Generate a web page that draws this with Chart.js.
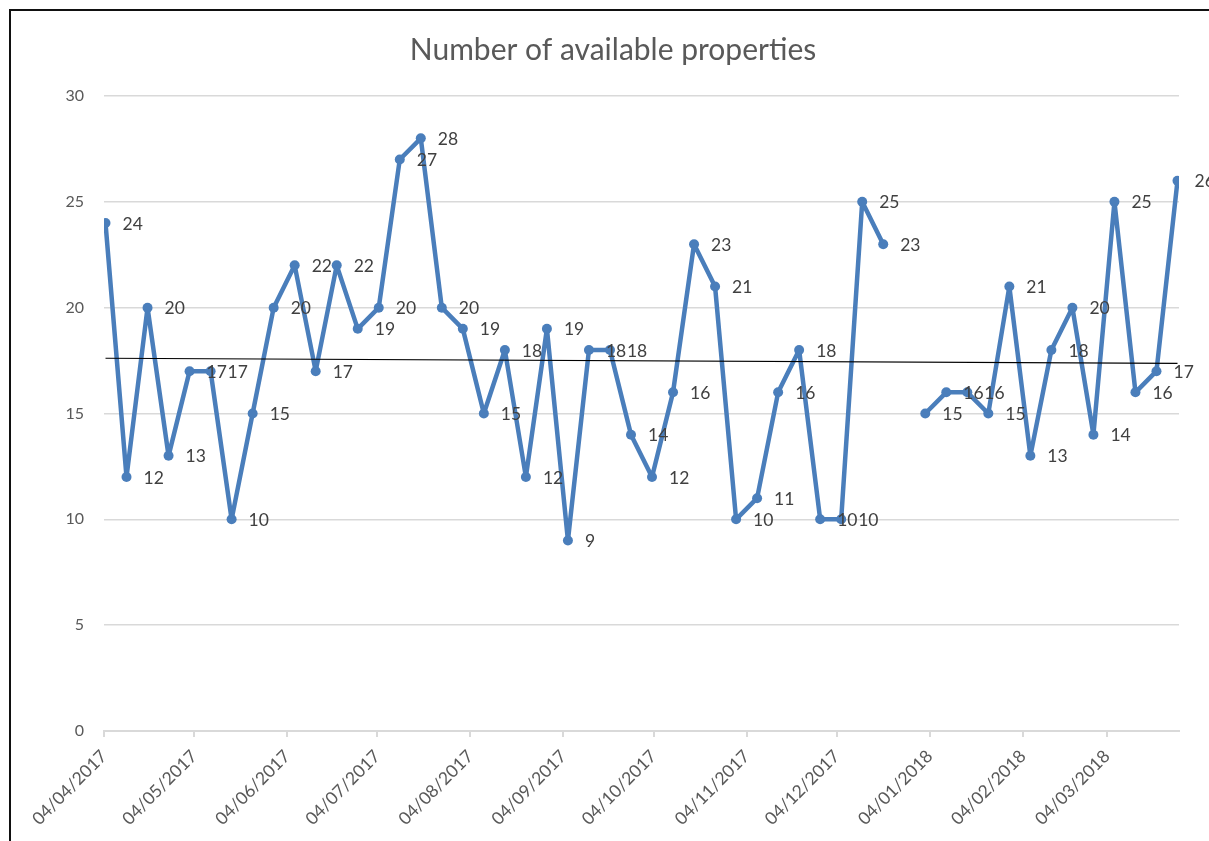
<!DOCTYPE html>
<html><head><meta charset="utf-8">
<script src="https://cdn.jsdelivr.net/npm/chart.js@4/dist/chart.umd.min.js"></script>
<style>
html,body{margin:0;padding:0;background:#fff;overflow:hidden;width:1209px;height:841px;}
#frame{position:absolute;left:9px;top:9px;width:1300px;height:900px;border:2px solid #111;box-sizing:border-box;}
#wrap{position:absolute;left:0;top:0;width:1209px;height:841px;}
</style></head><body>
<div id="frame"></div>
<div id="wrap"><canvas id="c" width="1209" height="841"></canvas></div>
<script>
const title = 'Number of available properties';
const dates = ['04/04/2017','11/04/2017','18/04/2017','25/04/2017','02/05/2017','09/05/2017','16/05/2017','23/05/2017','30/05/2017',
  '06/06/2017','13/06/2017','20/06/2017','27/06/2017','04/07/2017','11/07/2017','18/07/2017','25/07/2017',
  '01/08/2017','08/08/2017','15/08/2017','22/08/2017','29/08/2017','05/09/2017','12/09/2017','19/09/2017','26/09/2017',
  '03/10/2017','10/10/2017','17/10/2017','24/10/2017','31/10/2017','07/11/2017','14/11/2017','21/11/2017','28/11/2017',
  '05/12/2017','12/12/2017','19/12/2017','26/12/2017','02/01/2018','09/01/2018','16/01/2018','23/01/2018','30/01/2018',
  '06/02/2018','13/02/2018','20/02/2018','27/02/2018','06/03/2018','13/03/2018','20/03/2018','27/03/2018'];
const values = [24,12,20,13,17,17,10,15,20,22,17,22,19,20,27,28,20,19,15,18,12,19,9,18,18,14,12,16,23,21,10,11,16,18,10,10,25,23,null,
  15,16,16,15,21,13,18,20,14,25,16,17,26];
const tickLabels = ['04/04/2017','04/05/2017','04/06/2017','04/07/2017','04/08/2017','04/09/2017','04/10/2017','04/11/2017',
  '04/12/2017','04/01/2018','04/02/2018','04/03/2018'];
const yTicks = [0,5,10,15,20,25,30];

function toUTC(s){const [d,m,y]=s.split('/').map(Number);return Date.UTC(y,m-1,d);}
const base = toUTC(dates[0]);
function dayOf(s){return Math.round((toUTC(s)-base)/864e5);}

const pts = dates.map((d,i)=>({x:dayOf(d), y:values[i]}));
// linear least-squares trendline over the available points
const valid = pts.filter(p=>p.y!=null);
const n = valid.length;
const mx = valid.reduce((a,p)=>a+p.x,0)/n, my = valid.reduce((a,p)=>a+p.y,0)/n;
let sxy=0,sxx=0; valid.forEach(p=>{sxy+=(p.x-mx)*(p.y-my);sxx+=(p.x-mx)*(p.x-mx);});
const slope = sxy/sxx, icpt = my-slope*mx;
const x0 = pts[0].x, x1 = pts[pts.length-1].x;
const trend = [{x:x0,y:icpt+slope*x0},{x:x1,y:icpt+slope*x1}];

const labelPlugin = {
  id:'valueLabels',
  afterDatasetsDraw(chart){
    const meta = chart.getDatasetMeta(1);
    const ctx = chart.ctx;
    ctx.save();
    ctx.font = '17.5px Lato';
    ctx.fillStyle = '#404040';
    ctx.textAlign = 'left';
    ctx.textBaseline = 'middle';
    meta.data.forEach((pt,i)=>{
      const v = values[i];
      if (v==null) return;
      ctx.fillText(String(v), pt.x+17, pt.y+1);
    });
    ctx.restore();
  }
};

const BLUE = '#4a7ebb';
new Chart(document.getElementById('c'), {
  type:'line',
  data:{datasets:[
    {label:'Trend', data:trend, borderColor:'#000', borderWidth:1.2, pointRadius:0, order:0},
    {label:'Number of available properties', data:pts, borderColor:BLUE, backgroundColor:BLUE,
     borderWidth:4.5, pointRadius:5, pointHoverRadius:5, pointBorderWidth:0, pointBackgroundColor:BLUE,
     spanGaps:false, tension:0, borderJoinStyle:'round', borderCapStyle:'round', order:1}
  ]},
  options:{
    responsive:false, animation:false, devicePixelRatio:1,
    layout:{padding:{left:47,right:30,top:0,bottom:0}},
    plugins:{
      legend:{display:false}, tooltip:{enabled:false},
      title:{display:true, text:title, color:'#595959', font:{family:'Lato', size:30, weight:'normal'}, padding:{top:32,bottom:28}}
    },
    scales:{
      x:{type:'linear', min:x0-0.5, max:x1+0.5,
        afterBuildTicks:(s)=>{s.ticks = tickLabels.map(l=>({value:dayOf(l)-0.5}));},
        afterFit:(s)=>{s.height=110;},
        ticks:{autoSkip:false, minRotation:45, maxRotation:45, color:'#595959', font:{family:'Lato', size:17.5}, padding:9,
          callback:(v,i)=>tickLabels[i]},
        grid:{drawOnChartArea:false, drawTicks:true, tickLength:6, color:'#d9d9d9', lineWidth:2},
        border:{display:true, color:'#d9d9d9', width:2}
      },
      y:{min:0, max:30,
        afterBuildTicks:(s)=>{s.ticks = yTicks.map(v=>({value:v}));},
        afterFit:(s)=>{s.width=57;},
        ticks:{color:'#595959', font:{family:'Lato', size:16}, padding:20},
        grid:{color:'#d9d9d9', lineWidth:1.5, drawTicks:false},
        border:{display:false}
      }
    }
  },
  plugins:[labelPlugin]
});
</script></body></html>
